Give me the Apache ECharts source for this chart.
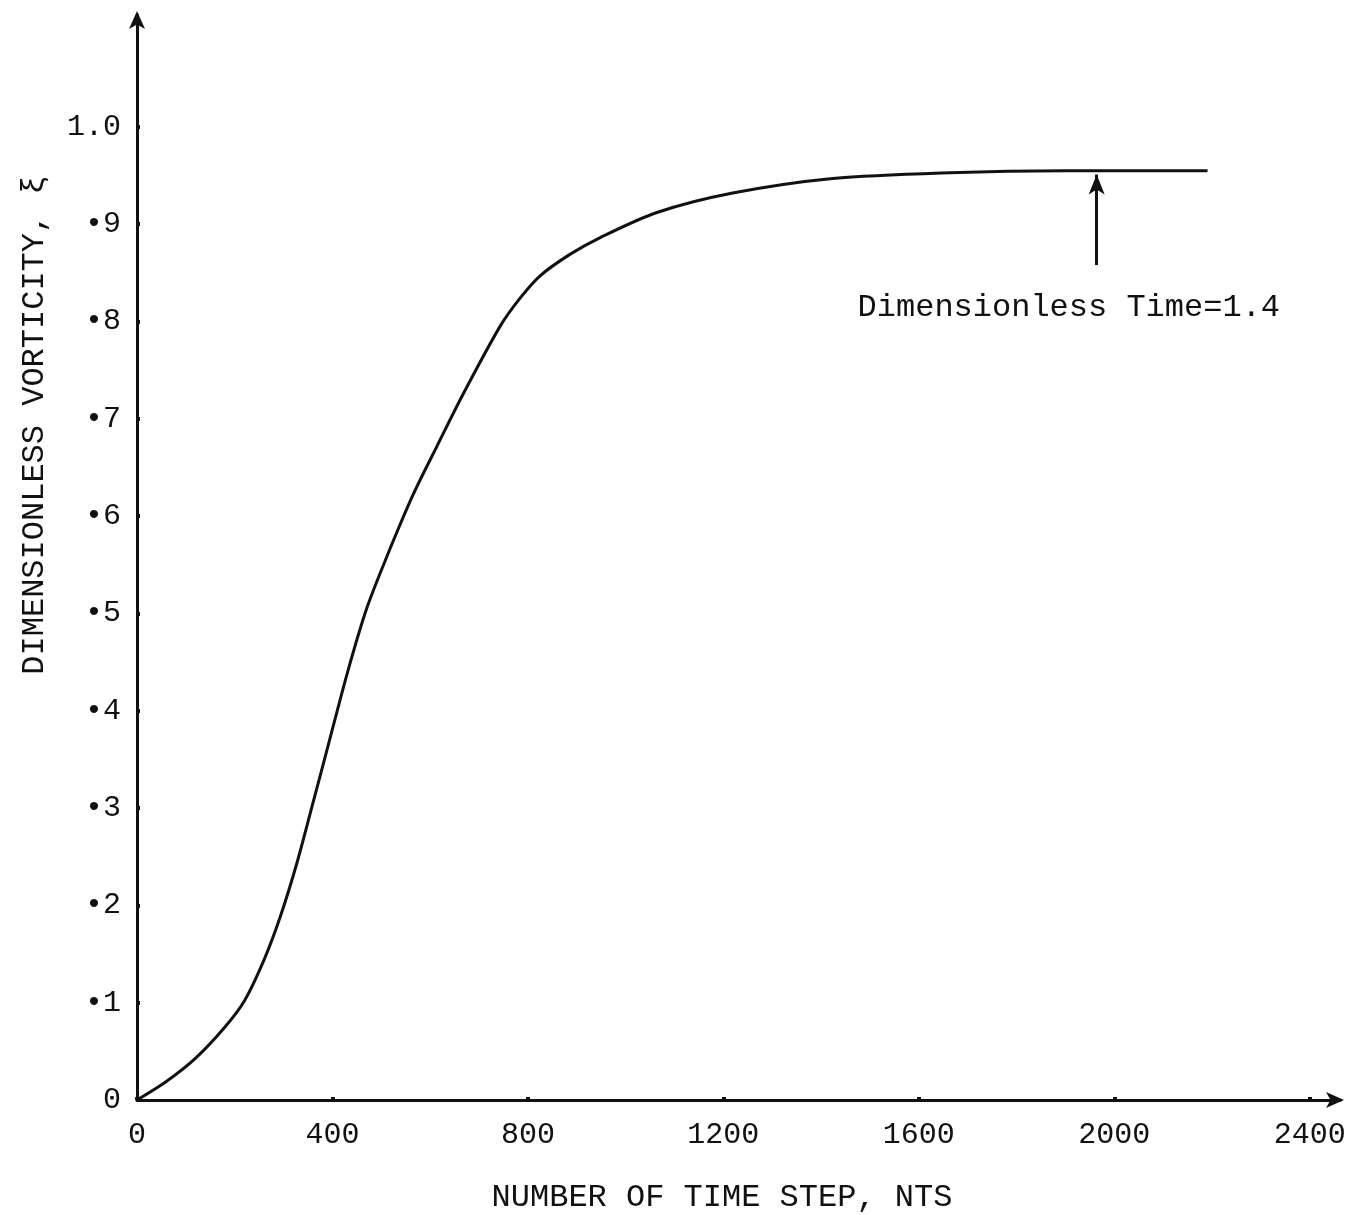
<!DOCTYPE html>
<html>
<head>
<meta charset="utf-8">
<script src="https://cdn.jsdelivr.net/npm/echarts@6/dist/echarts.min.js"></script>
<style>
  html, body { margin: 0; padding: 0; background: #fff; }
  #chart { width: 1349px; height: 1215px; }
</style>
</head>
<body>
<div id="chart"></div>
<script>
// Time step count (NTS) and dimensionless vorticity along the curve
const timeSteps = [0, 60, 120, 180, 220, 260, 293, 327, 360, 389, 430, 470, 511, 565, 614, 667, 743, 784, 825, 886, 947, 1064, 1219, 1424, 1663, 1900, 2191];
const vorticity = [0, 0.019, 0.043, 0.075, 0.102, 0.144, 0.188, 0.243, 0.305, 0.36, 0.438, 0.505, 0.558, 0.622, 0.672, 0.725, 0.795, 0.824, 0.847, 0.869, 0.886, 0.912, 0.932, 0.947, 0.953, 0.955, 0.955];

// Tick positions and labels
const xTicks = [0, 400, 800, 1200, 1600, 2000, 2400];
const yTicks = [0, 0.1, 0.2, 0.3, 0.4, 0.5, 0.6, 0.7, 0.8, 0.9, 1.0];
const yTickLabels = ['0', '•1', '•2', '•3', '•4', '•5', '•6', '•7', '•8', '•9', '1.0'];

// Annotation: arrow pointing at the plateau, and its caption
const arrowX = 1964;
const arrowFrom = 0.858;
const arrowTo = 0.951;
const noteText = 'Dimensionless Time=1.4';
const notePos = [1907, 0.814];

const FONT = '"Liberation Mono", "DejaVu Sans Mono", monospace';

const chart = echarts.init(document.getElementById('chart'), null, { renderer: 'canvas' });

chart.setOption({
  animation: false,
  backgroundColor: '#ffffff',
  grid: { left: 137, right: 9, top: 15, bottom: 115, containLabel: false },
  xAxis: {
    type: 'value',
    min: 0,
    max: 2462,
    axisLine: {
      show: true,
      lineStyle: { color: '#111', width: 3 },
      symbol: ['none', 'arrow'],
      symbolSize: [12, 18],
      symbolOffset: [0, 4]
    },
    axisTick: {
      show: true,
      customValues: xTicks,
      inside: true,
      length: 3,
      lineStyle: { color: '#111', width: 4 }
    },
    axisLabel: {
      customValues: xTicks,
      margin: 20,
      color: '#111',
      fontFamily: FONT,
      fontSize: 30,
      formatter: v => String(v)
    },
    splitLine: { show: false }
  },
  yAxis: {
    type: 'value',
    min: 0,
    max: 1.115,
    axisLine: {
      show: true,
      lineStyle: { color: '#111', width: 3 },
      symbol: ['none', 'arrow'],
      symbolSize: [12, 18],
      symbolOffset: [0, 4]
    },
    axisTick: {
      show: true,
      customValues: yTicks,
      inside: true,
      length: 3,
      lineStyle: { color: '#111', width: 4 }
    },
    axisLabel: {
      customValues: yTicks,
      margin: 16,
      color: '#111',
      fontFamily: FONT,
      fontSize: 30,
      formatter: v => {
        const i = yTicks.findIndex(t => Math.abs(t - v) < 1e-6);
        return i >= 0 ? yTickLabels[i] : '';
      }
    },
    splitLine: { show: false }
  },
  graphic: [
    {
      type: 'text',
      x: 722,
      y: 1198,
      style: {
        text: 'NUMBER OF TIME STEP, NTS',
        font: '32px ' + FONT,
        fill: '#111',
        align: 'center',
        verticalAlign: 'middle'
      }
    },
    {
      type: 'text',
      x: 35,
      y: 425,
      rotation: Math.PI / 2,
      style: {
        text: 'DIMENSIONLESS VORTICITY, ξ',
        font: '32px ' + FONT,
        fill: '#111',
        align: 'center',
        verticalAlign: 'middle'
      }
    }
  ],
  series: [
    {
      type: 'line',
      data: timeSteps.map((t, i) => [t, vorticity[i]]),
      smooth: 0.3,
      showSymbol: false,
      lineStyle: { color: '#111', width: 3 },
      markLine: {
        silent: true,
        symbol: ['none', 'arrow'],
        symbolSize: [12, 20],
        label: { show: false },
        lineStyle: { color: '#111', width: 3, type: 'solid' },
        data: [[{ coord: [arrowX, arrowFrom] }, { coord: [arrowX, arrowTo] }]]
      },
      markPoint: {
        silent: true,
        symbol: 'circle',
        symbolSize: 0,
        label: {
          show: true,
          position: 'inside',
          color: '#111',
          fontFamily: FONT,
          fontSize: 32,
          formatter: noteText
        },
        data: [{ coord: notePos }]
      }
    }
  ]
});
</script>
</body>
</html>
